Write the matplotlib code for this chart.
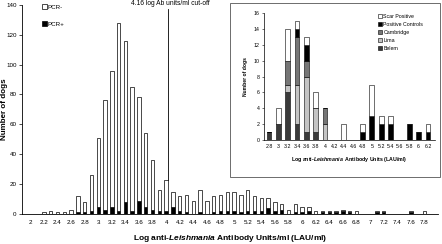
import numpy as np
import matplotlib
matplotlib.use("Agg")
import matplotlib.pyplot as plt
from matplotlib.patches import Patch, Rectangle

plt.rcParams['font.family'] = ['Liberation Sans', 'DejaVu Sans']
plt.rcParams['mathtext.fontset'] = 'custom'
plt.rcParams['mathtext.it'] = 'Liberation Sans:italic:bold'
plt.rcParams['mathtext.rm'] = 'Liberation Sans:bold'

# main histogram, bins 2.0 .. 7.9 (step 0.1)
bins = [round(2.0 + 0.1 * i, 1) for i in range(60)]
total = [0, 0, 1, 2, 1, 1, 3, 12, 8, 26,
         51, 76, 96, 128, 116, 85, 78, 54, 36, 16,
         23, 15, 12, 13, 9, 16, 9, 12, 13, 15,
         15, 13, 16, 12, 11, 11, 8, 7, 3, 7,
         5, 5, 2, 2, 2, 2, 3, 2, 2, 0,
         0, 2, 2, 0, 0, 0, 2, 0, 2, 0]
pcr_pos = [0, 0, 0, 0, 0, 0, 0, 1, 1, 2,
           5, 3, 5, 2, 8, 2, 9, 5, 3, 2,
           2, 5, 2, 1, 0, 1, 0, 1, 2, 2,
           2, 1, 2, 2, 2, 4, 2, 3, 0, 1,
           1, 2, 0, 1, 1, 1, 2, 1, 0, 0,
           0, 1, 1, 0, 0, 0, 1, 0, 0, 0]
pcr_neg = [t - p for t, p in zip(total, pcr_pos)]
tick_labels = [f"{b:g}" for b in bins[::2]]

# inset, bins 2.8 .. 6.2 (step 0.2)
inset_bins = ["2.8", "3", "3.2", "3.4", "3.6", "3.8", "4", "4.2", "4.4",
              "4.6", "4.8", "5", "5.2", "5.4", "5.6", "5.8", "6", "6.2"]
belem     = [1, 2, 6, 2, 1, 1, 0, 0, 0, 0, 0, 0, 0, 0, 0, 0, 0, 0]
lima      = [0, 0, 1, 5, 7, 3, 2, 0, 0, 0, 0, 0, 0, 0, 0, 0, 0, 0]
cambridge = [0, 0, 3, 6, 2, 0, 2, 0, 0, 0, 0, 0, 0, 0, 0, 0, 0, 0]
controls  = [0, 0, 0, 1, 2, 0, 0, 0, 0, 0, 1, 3, 2, 2, 0, 2, 1, 1]
scar      = [0, 2, 4, 1, 1, 2, 0, 0, 2, 0, 1, 4, 1, 1, 0, 0, 0, 1]

fig = plt.figure(figsize=(4.42, 2.44), dpi=100)
ax = fig.add_axes([0.05, 0.123, 0.941, 0.857])

x = np.arange(len(bins))
ax.bar(x, pcr_pos, width=0.5, color='black', edgecolor='black', linewidth=0.5)
ax.bar(x, pcr_neg, width=0.5, bottom=pcr_pos, color='white', edgecolor='black', linewidth=0.5)

ax.set_xlim(-1.2, 60)
ax.set_ylim(0, 140)
ax.set_yticks(range(0, 141, 20))
ax.set_xticks(x[::2])
ax.set_xticklabels(tick_labels)
ax.tick_params(axis='both', labelsize=4.5, length=2, width=0.5, pad=2)
ax.tick_params(axis='x', length=0, pad=4)
for s in ['top', 'right']:
    ax.spines[s].set_visible(False)
for s in ['left', 'bottom']:
    ax.spines[s].set_linewidth(0.6)

ax.set_ylabel('Number of dogs', fontsize=5.8, fontweight='bold')
ax.yaxis.set_label_coords(-0.033, 0.5)
ax.set_xlabel('Log anti-$\\mathit{Leishmania}$ Antibody Units/ml (LAU/ml)',
              fontsize=6.0, fontweight='bold', labelpad=6)

# cut-off line
ax.plot([20.25, 20.25], [total[20], 137], color='black', linewidth=0.6)
ax.text(20.6, 140.8, '4.16 log Ab units/ml cut-off', fontsize=4.8,
        ha='center', va='center', clip_on=False)

handles = [Patch(facecolor='white', edgecolor='black', linewidth=0.5),
           Patch(facecolor='black', edgecolor='black', linewidth=0.5)]
ax.legend(handles, ['PCR-', 'PCR+'], loc='upper left', bbox_to_anchor=(0.035, 1.03),
          frameon=False, fontsize=4.5, handlelength=0.7, handleheight=0.7,
          handletextpad=0.2, labelspacing=1.9)

# inset frame
fig.patches.append(Rectangle((0.520, 0.275), 0.475, 0.713, transform=fig.transFigure,
                             facecolor='white', edgecolor='#555555', linewidth=0.6,
                             zorder=2))

ins = fig.add_axes([0.597, 0.426, 0.387, 0.52], zorder=3)
ins.patch.set_alpha(0)
xi = np.arange(len(inset_bins))
bottom = np.zeros(len(inset_bins))
series = [(belem, '#3a3a3a', 'Belem'), (lima, '#c4c4c4', 'Lima'),
          (cambridge, '#767676', 'Cambridge'), (controls, 'black', 'Positive Controls'),
          (scar, 'white', 'Scar Positive')]
bars = {}
for vals, col, name in series:
    bars[name] = ins.bar(xi, vals, width=0.5, bottom=bottom, color=col,
                         edgecolor='black', linewidth=0.4)
    bottom += np.array(vals)

ins.set_xlim(-0.55, 17.75)
ins.set_ylim(0, 16)
ins.set_yticks(range(0, 17, 2))
ins.set_xticks(xi)
ins.set_xticklabels(inset_bins)
ins.tick_params(axis='both', labelsize=3.8, length=1.5, width=0.4, pad=1.5)
ins.tick_params(axis='x', length=0, pad=3)
for s in ['top', 'right']:
    ins.spines[s].set_visible(False)
for s in ['left', 'bottom']:
    ins.spines[s].set_linewidth(0.5)
ins.set_ylabel('Number of dogs', fontsize=3.6, fontweight='bold', labelpad=4)
ins.set_xlabel('Log anti-$\\mathit{Leishmania}$  Antibody Units (LAU/ml)',
               fontsize=3.8, fontweight='bold', labelpad=4)

order = ['Scar Positive', 'Positive Controls', 'Cambridge', 'Lima', 'Belem']
ins.legend([bars[n] for n in order], order, loc='upper right', bbox_to_anchor=(0.96, 1.03),
           frameon=False, fontsize=3.8, handlelength=0.7, handleheight=0.7,
           handletextpad=0.3, labelspacing=0.55)

fig.savefig('out.png', dpi=100)
